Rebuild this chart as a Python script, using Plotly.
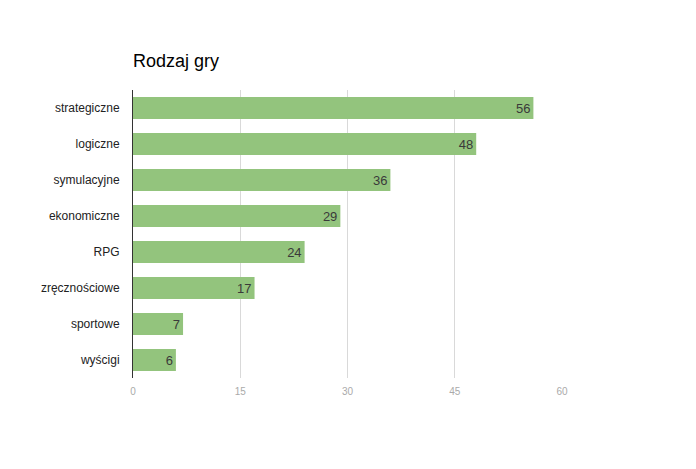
import plotly.graph_objects as go

# dane z wykresu
kategorie = ["strategiczne", "logiczne", "symulacyjne", "ekonomiczne",
             "RPG", "zręcznościowe", "sportowe", "wyścigi"]
wartosci = [56, 48, 36, 29, 24, 17, 7, 6]
ticki_x = [0, 15, 30, 45, 60]

fig = go.Figure()

fig.add_trace(go.Bar(
    x=wartosci,
    y=kategorie,
    orientation="h",
    marker=dict(color="#93c47d", line=dict(width=0)),
    text=[str(v) for v in wartosci],
    textposition="inside",
    insidetextanchor="end",
    textfont=dict(family="Arial, Liberation Sans", size=13, color="#3a3a3a"),
    showlegend=False,
))

# strona ma 8px marginesu body, wiec przesuwamy wszystko o 8px
fig.update_layout(
    width=696,
    height=469,
    paper_bgcolor="white",
    plot_bgcolor="white",
    margin=dict(l=125, r=142, t=82, b=99),
    bargap=0.39,
    title=dict(
        text="Rodzaj gry",
        x=125 / 696,
        xanchor="left",
        y=1 - 53 / 469,
        yanchor="middle",
        font=dict(family="Arial, Liberation Sans", size=18, color="#000000"),
    ),
    font=dict(family="Arial, Liberation Sans"),
)

fig.update_xaxes(
    range=[0, 60],
    tickvals=ticki_x,
    ticktext=[str(t) for t in ticki_x],
    showgrid=True,
    gridcolor="#d9d9d9",
    gridwidth=1,
    zeroline=False,
    showline=False,
    tickfont=dict(size=10, color="#aaaaaa"),
    ticks="",
    ticklabelstandoff=6,
)

fig.update_yaxes(
    categoryorder="array",
    categoryarray=kategorie[::-1],
    showgrid=False,
    showline=True,
    linecolor="#333333",
    linewidth=1,
    ticks="",
    ticklabelstandoff=10,
    tickfont=dict(size=12, color="#222222"),
)

fig.write_html("out.html")
